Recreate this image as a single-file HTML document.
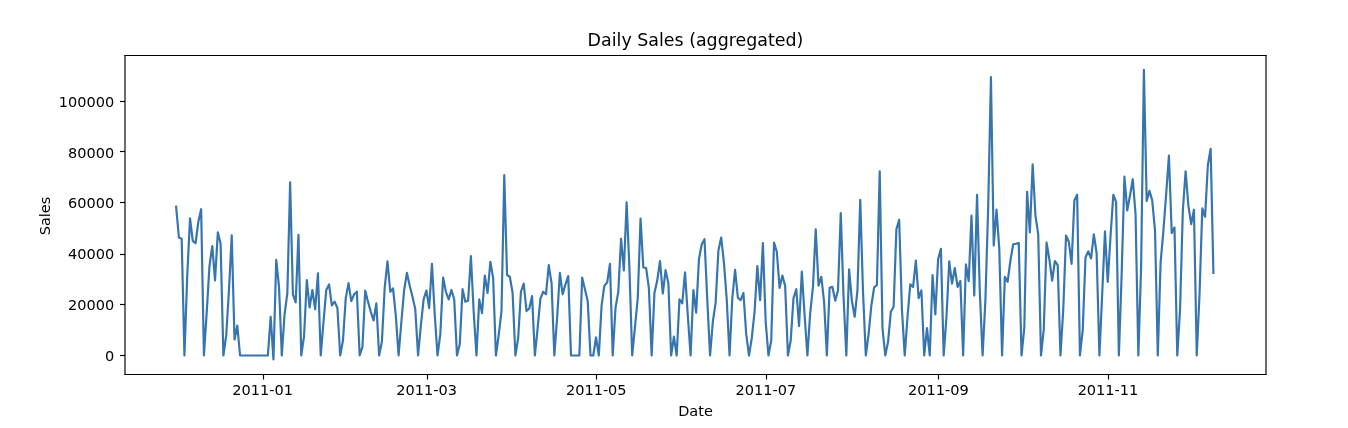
<!DOCTYPE html>
<html lang="en"><head><meta charset="utf-8"><title>Daily Sales (aggregated)</title>
<style>html,body{margin:0;padding:0;background:#fff}body{width:1348px;height:428px;overflow:hidden}svg{display:block}text{font-family:"DejaVu Sans","Liberation Sans",sans-serif;fill:#000}</style></head><body>
<svg width="1348" height="428" viewBox="0 0 1348 428">
<defs><mask id="m" maskUnits="userSpaceOnUse" x="0" y="0" width="1348" height="428"><rect width="1348" height="428" fill="#fff"/></mask></defs>
<rect width="1348" height="428" fill="#fff"/>
<polyline fill="none" stroke="#3775af" stroke-width="2.18" stroke-linejoin="round" stroke-linecap="square" points="176.11,206.66 178.89,237.39 181.67,238.66 184.45,355.50 187.23,275.74 190.02,218.34 192.80,241.00 195.58,243.00 198.36,221.74 201.14,209.20 203.92,355.50 206.70,312.57 209.48,265.84 212.26,246.03 215.04,280.32 217.83,232.31 220.61,243.74 223.39,355.50 226.17,335.94 228.95,290.73 231.73,235.36 234.51,339.50 237.29,325.53 240.07,355.50 242.85,355.50 245.64,355.50 248.42,355.50 251.20,355.50 253.98,355.50 256.76,355.50 259.54,355.50 262.32,355.50 265.10,355.50 267.88,355.50 270.66,316.76 273.45,359.49 276.23,259.74 279.01,286.77 281.79,355.50 284.57,314.35 287.35,293.02 290.13,182.27 292.91,294.29 295.69,302.41 298.47,234.85 301.25,355.50 304.04,336.45 306.82,280.06 309.60,307.49 312.38,289.97 315.16,309.27 317.94,273.46 320.72,355.50 323.50,321.72 326.28,289.97 329.07,284.38 331.85,305.46 334.63,301.65 337.41,308.00 340.19,355.50 342.97,340.51 345.75,298.10 348.53,283.11 351.31,301.14 354.09,294.29 356.88,291.75 359.66,355.50 362.44,346.86 365.22,290.48 368.00,301.65 370.78,311.81 373.56,320.45 376.34,303.43 379.12,355.50 381.90,341.78 384.69,287.94 387.47,261.27 390.25,291.75 393.03,288.44 395.81,315.62 398.59,355.50 401.37,321.72 404.15,289.97 406.93,272.95 409.71,285.65 412.50,296.83 415.28,309.27 418.06,355.50 420.84,325.53 423.62,299.37 426.40,290.48 429.18,308.00 431.96,263.81 434.74,314.35 437.52,355.50 440.31,334.16 443.09,277.52 445.87,291.75 448.65,299.37 451.43,289.97 454.21,299.37 456.99,355.50 459.77,344.32 462.55,289.21 465.33,301.65 468.12,300.64 470.90,256.19 473.68,311.81 476.46,355.50 479.24,299.37 482.02,313.08 484.80,275.49 487.58,293.02 490.36,261.77 493.14,278.03 495.93,355.50 498.71,335.18 501.49,311.05 504.27,175.16 507.05,274.98 509.83,276.76 512.61,293.02 515.39,355.50 518.17,337.97 520.95,291.75 523.74,283.62 526.52,311.05 529.30,308.51 532.08,296.06 534.86,355.50 537.64,328.07 540.42,298.60 543.20,291.75 545.98,294.29 548.76,265.08 551.55,283.11 554.33,355.50 557.11,317.91 559.89,272.95 562.67,294.29 565.45,284.38 568.23,276.00 571.01,355.50 573.79,355.50 576.57,355.50 579.36,355.50 582.14,277.52 584.92,289.21 587.70,300.89 590.48,355.50 593.26,355.50 596.04,337.47 598.82,355.50 601.60,305.46 604.38,285.65 607.16,282.60 609.95,263.81 612.73,355.50 615.51,308.00 618.29,291.75 621.07,238.74 623.85,270.41 626.63,202.24 629.41,267.87 632.19,355.50 634.98,326.80 637.76,298.10 640.54,218.49 643.32,267.49 646.10,268.00 648.88,287.94 651.66,355.50 654.44,293.02 657.22,280.57 660.00,261.01 662.79,293.52 665.57,270.16 668.35,283.11 671.13,355.50 673.91,336.70 676.69,355.50 679.47,299.37 682.25,303.43 685.03,272.44 687.81,315.62 690.60,355.50 693.38,289.97 696.16,312.57 698.94,259.23 701.72,244.25 704.50,239.24 707.28,299.62 710.06,355.50 712.84,321.72 715.62,302.92 718.41,250.60 721.19,237.49 723.97,263.04 726.75,299.62 729.53,355.50 732.31,298.10 735.09,269.90 737.87,297.59 740.65,300.13 743.43,293.02 746.22,334.16 749.00,355.50 751.78,337.97 754.56,311.81 757.34,266.09 760.12,300.13 762.90,242.98 765.68,321.72 768.46,355.50 771.24,340.51 774.03,242.47 776.81,251.74 779.59,287.94 782.37,275.49 785.15,285.90 787.93,355.50 790.71,340.51 793.49,298.10 796.27,289.21 799.05,326.04 801.84,271.68 804.62,315.62 807.40,355.50 810.18,313.08 812.96,286.92 815.74,229.26 818.52,285.65 821.30,276.76 824.08,301.65 826.86,355.50 829.65,287.68 832.43,286.92 835.21,300.64 837.99,290.48 840.77,213.01 843.55,297.08 846.33,355.50 849.11,269.39 851.89,300.64 854.67,316.76 857.46,290.48 860.24,199.75 863.02,292.00 865.80,355.50 868.58,334.16 871.36,305.46 874.14,287.43 876.92,285.01 879.70,171.25 882.48,328.07 885.27,355.50 888.05,341.78 890.83,311.81 893.61,306.73 896.39,229.26 899.17,219.74 901.95,309.78 904.73,355.50 907.51,316.76 910.29,284.38 913.08,286.92 915.86,260.50 918.64,298.10 921.42,290.48 924.20,355.50 926.98,328.07 929.76,355.50 932.54,274.98 935.32,314.35 938.10,259.23 940.89,248.82 943.67,355.50 946.45,317.40 949.23,261.27 952.01,283.62 954.79,268.00 957.57,286.92 960.35,281.08 963.13,355.50 965.91,264.31 968.70,281.08 971.48,215.55 974.26,295.56 977.04,194.72 979.82,292.00 982.60,355.50 985.38,300.64 988.16,208.18 990.94,76.99 993.72,245.52 996.51,209.70 999.29,248.82 1002.07,355.50 1004.85,276.76 1007.63,281.84 1010.41,260.50 1013.19,244.25 1015.97,243.74 1018.75,242.98 1021.53,355.50 1024.32,327.56 1027.10,191.75 1029.88,232.49 1032.66,164.24 1035.44,215.55 1038.22,234.34 1041.00,355.50 1043.78,329.34 1046.56,242.47 1049.34,259.23 1052.12,280.57 1054.91,261.01 1057.69,265.08 1060.47,355.50 1063.25,309.78 1066.03,235.49 1068.81,241.71 1071.59,263.81 1074.37,200.56 1077.15,194.72 1079.93,355.50 1082.72,330.10 1085.50,257.46 1088.28,251.36 1091.06,258.47 1093.84,234.34 1096.62,252.99 1099.40,355.50 1102.18,294.54 1104.96,231.29 1107.74,281.84 1110.53,236.12 1113.31,194.72 1116.09,201.83 1118.87,355.50 1121.65,274.22 1124.43,176.68 1127.21,210.47 1129.99,195.48 1132.77,179.22 1135.56,214.28 1138.34,355.50 1141.12,266.60 1143.90,69.75 1146.68,201.07 1149.46,190.91 1152.24,200.56 1155.02,230.53 1157.80,355.50 1160.58,262.79 1163.37,231.04 1166.15,194.21 1168.93,155.60 1171.71,233.07 1174.49,227.48 1177.27,355.50 1180.05,309.78 1182.83,210.72 1185.61,171.25 1188.39,205.64 1191.18,224.18 1193.96,209.70 1196.74,355.50 1199.52,294.54 1202.30,208.43 1205.08,216.82 1207.86,165.00 1210.64,148.74 1213.42,272.95"/>
<g stroke="#000" stroke-width="1.16" fill="none" shape-rendering="auto">
<line x1="125.0" y1="55.0" x2="125.0" y2="375.0"/>
<line x1="1266.0" y1="55.0" x2="1266.0" y2="375.0"/>
<line x1="124.5" y1="55.5" x2="1266.5" y2="55.5"/>
<line x1="124.5" y1="374.5" x2="1266.5" y2="374.5"/>
<line x1="263.50" y1="374.5" x2="263.50" y2="379.50"/>
<line x1="427.50" y1="374.5" x2="427.50" y2="379.50"/>
<line x1="596.50" y1="374.5" x2="596.50" y2="379.50"/>
<line x1="766.50" y1="374.5" x2="766.50" y2="379.50"/>
<line x1="938.50" y1="374.5" x2="938.50" y2="379.50"/>
<line x1="1108.50" y1="374.5" x2="1108.50" y2="379.50"/>
<line x1="125.0" y1="355.50" x2="120.00" y2="355.50"/>
<line x1="125.0" y1="304.50" x2="120.00" y2="304.50"/>
<line x1="125.0" y1="254.50" x2="120.00" y2="254.50"/>
<line x1="125.0" y1="202.50" x2="120.00" y2="202.50"/>
<line x1="125.0" y1="151.50" x2="120.00" y2="151.50"/>
<line x1="125.0" y1="101.50" x2="120.00" y2="101.50"/>
</g>
<g font-size="14.53px" mask="url(#m)">
<text x="262.57" y="394.9" text-anchor="middle">2011-01</text>
<text x="426.64" y="394.9" text-anchor="middle">2011-03</text>
<text x="596.28" y="394.9" text-anchor="middle">2011-05</text>
<text x="765.91" y="394.9" text-anchor="middle">2011-07</text>
<text x="938.33" y="394.9" text-anchor="middle">2011-09</text>
<text x="1107.96" y="394.9" text-anchor="middle">2011-11</text>
<text x="114.2" y="360.80" text-anchor="end">0</text>
<text x="114.2" y="310.00" text-anchor="end">20000</text>
<text x="114.2" y="259.20" text-anchor="end">40000</text>
<text x="114.2" y="208.40" text-anchor="end">60000</text>
<text x="114.2" y="157.60" text-anchor="end">80000</text>
<text x="114.2" y="106.80" text-anchor="end">100000</text>
<text x="695.5" y="415.9" text-anchor="middle">Date</text>
<text transform="translate(50,216) rotate(-90)" text-anchor="middle">Sales</text>
</g>
<g mask="url(#m)"><text x="695.5" y="46.3" font-size="17.43px" text-anchor="middle">Daily Sales (aggregated)</text></g>
</svg></body></html>
